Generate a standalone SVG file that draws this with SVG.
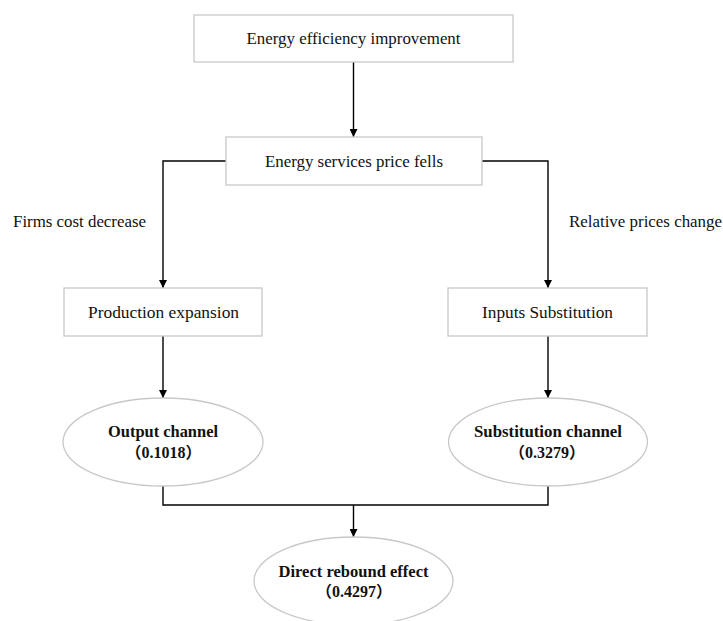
<svg xmlns="http://www.w3.org/2000/svg" width="723" height="621" viewBox="0 0 723 621">
<defs>
<marker id="arr" viewBox="0 0 10 10" refX="10" refY="5" markerWidth="8" markerHeight="8" markerUnits="userSpaceOnUse" orient="auto">
<path d="M0,0 L10,5 L0,10 z" fill="#000"/>
</marker>
<style>
.box{fill:#fff;stroke:#c8c8c8;stroke-width:1.3}
.ell{fill:#fff;stroke:#c8c8c8;stroke-width:1.3}
.t{font-family:"Liberation Serif","DejaVu Serif",serif;font-size:16px;fill:#111;text-anchor:middle}
.b{font-family:"Liberation Serif","Noto Sans CJK SC",serif;font-size:16px;font-weight:bold;fill:#111;text-anchor:middle}
.lbl{font-family:"Liberation Serif","DejaVu Serif",serif;font-size:16px;fill:#111}
.c{fill:none;stroke:#000;stroke-width:1.4}
</style>
</defs>
<rect width="723" height="621" fill="#fff"/>
<g id="connectors">
<line class="c" x1="353.5" y1="62" x2="353.5" y2="137" marker-end="url(#arr)"/>
<polyline class="c" points="226,161 163,161 163,288" marker-end="url(#arr)"/>
<polyline class="c" points="482,161 548,161 548,288" marker-end="url(#arr)"/>
<line class="c" x1="163" y1="336" x2="163" y2="398" marker-end="url(#arr)"/>
<line class="c" x1="548" y1="336" x2="548" y2="398" marker-end="url(#arr)"/>
<polyline class="c" points="163,486 163,505 548,505 548,486"/>
<line class="c" x1="353.5" y1="505" x2="353.5" y2="537" marker-end="url(#arr)"/>
<text class="lbl" x="13" y="227" textLength="133" lengthAdjust="spacingAndGlyphs">Firms cost decrease</text>
<text class="lbl" x="569" y="227" textLength="153" lengthAdjust="spacingAndGlyphs">Relative prices change</text>
</g>
<g id="n1"><rect class="box" x="194" y="15" width="319" height="47"/><text class="t" x="353.5" y="44" textLength="214" lengthAdjust="spacingAndGlyphs">Energy efficiency improvement</text></g>
<g id="n2"><rect class="box" x="226" y="137" width="256" height="48"/><text class="t" x="354" y="167" textLength="178" lengthAdjust="spacingAndGlyphs">Energy services price fells</text></g>
<g id="n3"><rect class="box" x="64" y="288" width="198" height="48"/><text class="t" x="163.5" y="318" textLength="151" lengthAdjust="spacingAndGlyphs">Production expansion</text></g>
<g id="n4"><rect class="box" x="448" y="288" width="199" height="48"/><text class="t" x="547.5" y="318" textLength="131" lengthAdjust="spacingAndGlyphs">Inputs Substitution</text></g>
<g id="n5"><ellipse class="ell" cx="163" cy="442" rx="100" ry="44"/><text class="b" x="163" y="437" textLength="110" lengthAdjust="spacingAndGlyphs">Output channel</text><text class="b" x="163.5" y="458">（0.1018）</text></g>
<g id="n6"><ellipse class="ell" cx="548" cy="442" rx="99.5" ry="44"/><text class="b" x="548" y="437" textLength="148" lengthAdjust="spacingAndGlyphs">Substitution channel</text><text class="b" x="547" y="458">（0.3279）</text></g>
<g id="n7"><ellipse class="ell" cx="353.5" cy="581" rx="99.5" ry="44"/><text class="b" x="353.5" y="577" textLength="150" lengthAdjust="spacingAndGlyphs">Direct rebound effect</text><text class="b" x="354" y="597">（0.4297）</text></g>
</svg>
